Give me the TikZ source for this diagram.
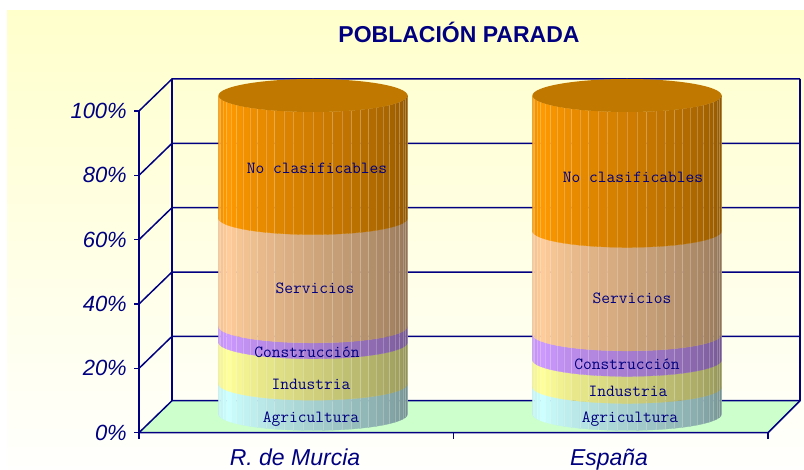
\documentclass[tikz,border=0pt]{standalone}
\usepackage{fontspec}
\setmainfont{Liberation Sans}
\newcommand\lblfont{\ttfamily\addfontfeatures{FakeStretch=0.93,FakeBold=0.6}}
\definecolor{navy}{HTML}{000080}
\definecolor{agri}{HTML}{CCFFFF}
\definecolor{indu}{HTML}{FFFF99}
\definecolor{cons}{HTML}{CC99FF}
\definecolor{serv}{HTML}{FFCC99}
\definecolor{nocl}{HTML}{FF9900}
\definecolor{nocltop}{HTML}{C07800}
\definecolor{floorc}{HTML}{CCFFCC}
\definecolor{bgtop}{HTML}{FFFFCC}
\newcommand\drawseg[6]{% cx, rx, ry, ybottom, ytop, color
  \foreach \i in {0,...,29}{
    \pgfmathsetmacro\ta{180-\i*6}
    \pgfmathsetmacro\tb{180-(\i+1)*6}
    \pgfmathsetmacro\tm{(\i+0.5)/30}
    \pgfmathsetmacro\fz{\tm<0.15 ? 92+8*\tm/0.15 : 100-45*(\tm-0.15)/0.85}
    \filldraw[fill=#6!\fz!black,draw=#6!\fz!black,line width=0.3pt]
      ({#1+#2*cos(\ta)},{#4+#3*sin(\ta)}) -- ({#1+#2*cos(\tb)},{#4+#3*sin(\tb)})
      -- ({#1+#2*cos(\tb)},{#5+#3*sin(\tb)}) -- ({#1+#2*cos(\ta)},{#5+#3*sin(\ta)}) -- cycle;
  }}
\newcommand\cylfinish[5]{% cx, rx, ry, ybase, ytop
  \foreach \i in {1,...,29}{
    \pgfmathsetmacro\ta{180-\i*6}
    \draw[white,opacity=0.22,line width=0.4pt]
      ({#1+#2*cos(\ta)},{#4+#3*sin(\ta)}) -- ({#1+#2*cos(\ta)},{#5+#3*sin(\ta)});
  }
  \fill[nocltop] (#1,#5) ellipse [x radius=#2, y radius=#3];}
\tikzset{
  grid/.style={navy,line width=1.5pt},
  ylab/.style={anchor=east,font=\itshape\fontsize{22}{22}\selectfont,text=navy,inner sep=0pt},
  catlab/.style={anchor=base,font=\itshape\fontsize{23}{23}\selectfont,text=navy,inner sep=0pt},
  seglab/.style={font=\lblfont\fontsize{17}{17}\selectfont,text=navy,inner sep=0pt},
}
\begin{document}
\begin{tikzpicture}[x=1pt,y=-1pt]
\useasboundingbox (0,0) rectangle (804,470);
\fill[white] (0,0) rectangle (804,470);
\shade[top color=bgtop,bottom color=white!96!bgtop] (7,11) rectangle (804,470);
% floor
\fill[floorc] (139,432.7) -- (768,432.7) -- (800,400.7) -- (172,400.7) -- cycle;
% grid
\foreach \k in {0,...,5}{
  \pgfmathsetmacro\yb{79+64.34*\k}
  \pgfmathsetmacro\yf{\yb+32}
  \draw[grid] (139,\yf) -- (172,\yb) -- (800,\yb);
  \draw[grid] (134,\yf) -- (139,\yf);
}
\draw[grid] (172,79) -- (172,400.7);
\draw[grid] (800,79) -- (800,400.7);
\draw[grid] (139,111) -- (139,439);
\draw[grid] (139,432.7) -- (768,432.7) -- (800,400.7);
\draw[grid] (453.5,432.7) -- (453.5,439);
\draw[grid] (768,432.7) -- (768,439);
% cylinder R. de Murcia
\drawseg{313}{94.5}{16.5}{414}{383.7}{agri}
\drawseg{313}{94.5}{16.5}{383.7}{342.3}{indu}
\drawseg{313}{94.5}{16.5}{342.3}{326.4}{cons}
\drawseg{313}{94.5}{16.5}{326.4}{218.1}{serv}
\drawseg{313}{94.5}{16.5}{218.1}{95.5}{nocl}
\cylfinish{313}{94.5}{16.5}{414}{95.5}
% cylinder Espana
\drawseg{627}{94.5}{16.5}{414}{386.9}{agri}
\drawseg{627}{94.5}{16.5}{386.9}{359.9}{indu}
\drawseg{627}{94.5}{16.5}{359.9}{334.4}{cons}
\drawseg{627}{94.5}{16.5}{334.4}{230.9}{serv}
\drawseg{627}{94.5}{16.5}{230.9}{95.5}{nocl}
\cylfinish{627}{94.5}{16.5}{414}{95.5}
% texts
\node[font=\bfseries\fontsize{23}{23}\selectfont,text=navy] (title) at (459,32) {POBLACIÓN PARADA};
\node[ylab] (l100) at (127,111) {100\%};
\node[ylab] (l80) at (127,175.3) {80\%};
\node[ylab] (l60) at (127,239.7) {60\%};
\node[ylab] (l40) at (127,304) {40\%};
\node[ylab] (l20) at (127,368.4) {20\%};
\node[ylab] (l0) at (127,432.7) {0\%};
\node[catlab] (c1) at (295,465) {R. de Murcia};
\node[catlab] (c2) at (609,465) {España};
\node[seglab] (m5) at (317,168) {No clasificables};
\node[seglab] (m4) at (315,288) {Servicios};
\node[seglab] (m3) at (307,352) {Construcción};
\node[seglab] (m2) at (311,384) {Industria};
\node[seglab] (m1) at (311,419) {Agricultura};
\node[seglab] (e5) at (633,177) {No clasificables};
\node[seglab] (e4) at (632,298) {Servicios};
\node[seglab] (e3) at (627,364) {Construcción};
\node[seglab] (e2) at (628,391) {Industria};
\node[seglab] (e1) at (630,419) {Agricultura};
\end{tikzpicture}
\end{document}
